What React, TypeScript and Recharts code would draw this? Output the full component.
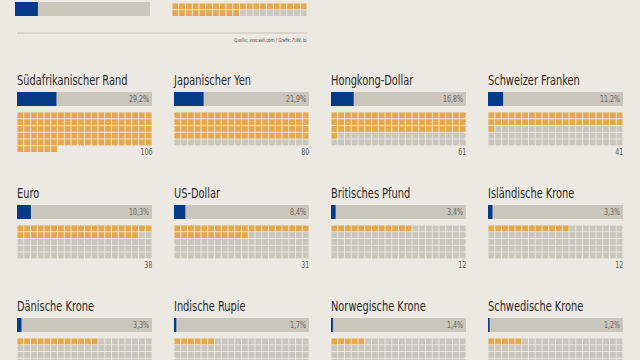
import React from "react";
import { Bar, BarChart, LabelList, Scatter, ScatterChart, XAxis, YAxis } from "recharts";

const currencies = [
  "Südafrikanischer Rand",
  "Japanischer Yen",
  "Hongkong-Dollar",
  "Schweizer Franken",
  "Euro",
  "US-Dollar",
  "Britisches Pfund",
  "Isländische Krone",
  "Dänische Krone",
  "Indische Rupie",
  "Norwegische Krone",
  "Schwedische Krone",
];
const shares = [29.2, 21.9, 16.8, 11.2, 10.3, 8.4, 3.4, 3.3, 3.3, 1.7, 1.4, 1.2];
const counts = [106, 80, 61, 41, 38, 31, 12, 12, 12, 6, 5, 5];

// legend strip cut off at the top of the picture
const legendShare = 17;
const legendCount = 30;

const source = "Quelle: vexcash.com / Grafik: FuW, bi";

const BG = "#ECE9E3";
const BLUE = "#053A89";
const GRAY = "#CAC6BC";
const ORANGE = "#E4A94D";
const FONT = "'Liberation Sans Narrow', 'DejaVu Sans Condensed', sans-serif";
const SQUEEZE = 0.78;

const COLS = 20;
const W = 135;
const PITCH = W / COLS;
const noMargin = { top: 0, right: 0, bottom: 0, left: 0 };

function formatShare(value: unknown) {
  const n = Number(value ?? 0);
  return `${n.toFixed(1).replace(".", ",")}%`;
}

function ShareBar({ name, share, label = true }: { name: string; share: number; label?: boolean }) {
  return (
    <BarChart
      width={W}
      height={14}
      data={[{ name, share }]}
      layout="vertical"
      margin={noMargin}
      barCategoryGap={0}
    >
      <XAxis type="number" domain={[0, 100]} hide />
      <YAxis type="category" dataKey="name" hide />
      <Bar dataKey="share" fill={BLUE} background={{ fill: GRAY }} isAnimationActive={false}>
        {label && (
          <LabelList
            dataKey="share"
            content={(p: any) => (
              <text
                transform={`translate(${W - 3},${Number(p.y) + Number(p.height) / 2 + 3}) scale(${SQUEEZE},1)`}
                textAnchor="end"
                fontSize={9}
                fontFamily={FONT}
                fill="#6A6456"
              >
                {formatShare(p.value)}
              </text>
            )}
          />
        )}
      </Bar>
    </BarChart>
  );
}

function Waffle({ count, rows }: { count: number; rows: number }) {
  const total = Math.max(rows * COLS, count);
  const shownRows = Math.ceil(total / COLS);
  const cells = Array.from({ length: total }, (_, i) => ({
    col: (i % COLS) + 0.5,
    row: Math.floor(i / COLS) + 0.5,
    filled: i < count,
  }));
  const size = PITCH - 0.9;
  return (
    <ScatterChart width={W} height={shownRows * PITCH} margin={noMargin}>
      <XAxis type="number" dataKey="col" domain={[0, COLS]} hide />
      <YAxis type="number" dataKey="row" domain={[0, shownRows]} reversed hide />
      <Scatter
        data={cells}
        isAnimationActive={false}
        shape={(p: any) => (
          <rect
            x={p.cx - size / 2}
            y={p.cy - size / 2}
            width={size}
            height={size}
            fill={p.payload.filled ? ORANGE : GRAY}
          />
        )}
      />
    </ScatterChart>
  );
}

function Panel({ name, share, count, left, top }: { name: string; share: number; count: number; left: number; top: number }) {
  return (
    <div style={{ position: "absolute", left, top, width: W }}>
      <div
        style={{
          position: "absolute",
          left: 0,
          top: -9.5,
          fontFamily: FONT,
          fontSize: 14,
          lineHeight: "18px",
          color: "#2B2A27",
          whiteSpace: "nowrap",
          transform: `scaleX(${SQUEEZE})`,
          transformOrigin: "left center",
        }}
      >
        {name}
      </div>
      <div style={{ position: "absolute", left: 0, top: 11 }}>
        <ShareBar name={name} share={share} />
      </div>
      <div style={{ position: "absolute", left: 0, top: 31.5 }}>
        <Waffle count={count} rows={5} />
      </div>
      <div
        style={{
          position: "absolute",
          right: 0,
          top: 66,
          fontFamily: FONT,
          fontSize: 9,
          lineHeight: "10px",
          color: "#5E5A50",
          transform: `scaleX(${SQUEEZE})`,
          transformOrigin: "right center",
        }}
      >
        {count}
      </div>
    </div>
  );
}

export default function App() {
  return (
    <div
      style={{
        position: "absolute",
        left: 0,
        top: 0,
        width: 640,
        height: 360,
        overflow: "hidden",
        background: BG,
      }}
    >
      <div style={{ position: "absolute", left: 15, top: 2 }}>
        <ShareBar name="Legende" share={legendShare} label={false} />
      </div>
      <div style={{ position: "absolute", left: 172, top: 2.5 }}>
        <Waffle count={legendCount} rows={2} />
      </div>
      <div style={{ position: "absolute", left: 17, top: 32, width: 290, height: 2, background: "#DAD6CD" }} />
      <div
        style={{
          position: "absolute",
          right: 640 - 307,
          top: 37,
          fontFamily: FONT,
          fontSize: 5.5,
          lineHeight: "7px",
          color: "#4A4740",
          whiteSpace: "nowrap",
          transform: `scaleX(${SQUEEZE})`,
          transformOrigin: "right center",
        }}
      >
        {source}
      </div>
      {currencies.map((name, i) => (
        <Panel
          key={name}
          name={name}
          share={shares[i]}
          count={counts[i]}
          left={17 + (i % 4) * 157}
          top={80.5 + Math.floor(i / 4) * 113}
        />
      ))}
    </div>
  );
}
